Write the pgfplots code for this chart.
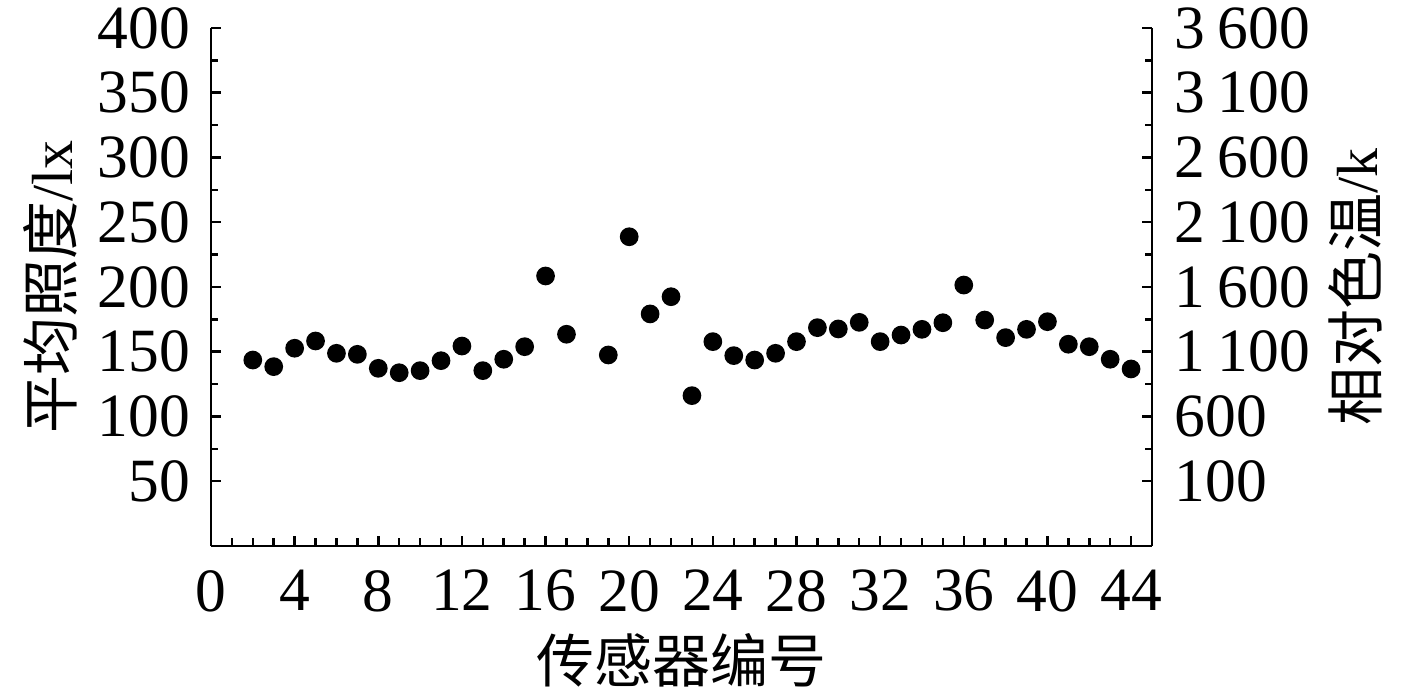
\documentclass[border=0pt]{standalone}
\usepackage{pgfplots}
\pgfplotsset{compat=1.18}
\usepackage{fontspec}
\setmainfont{Liberation Serif}
\newfontfamily\cjk{Noto Sans CJK SC}

\pgfplotsset{
  twin/.style={
    scale only axis,
    width=188.2pt, height=103.6pt,
    xmin=0, xmax=45,
    font=\fontsize{12.3}{14}\selectfont,
    label style={font=\fontsize{11.6}{14}\selectfont},
    tick align=inside,
    major tick length=2pt, minor tick length=1.5pt,
    axis line style={line width=0.5pt},
    tick style={line width=0.5pt, black},
    /pgf/number format/assume math mode=true,
  }
}

\begin{document}
\begin{tikzpicture}
\begin{axis}[
    twin,
    axis x line*=bottom, axis y line*=left,
    xtick pos=bottom, ytick pos=left,
    ymin=0, ymax=400,
    ytick={50,100,...,400},
    minor y tick num=1,
    xtick={0,4,...,44},
    minor xtick={1,...,44},
    xticklabel style={yshift=-1.3pt},
    yticklabel style={xshift=-0.7pt},
    xlabel={\cjk 传感器编号},
    xlabel style={at={(axis description cs:0.5,0)}, anchor=center, yshift=-22.8pt},
    ylabel={{\cjk 平均照度}/lx},
    ylabel style={at={(axis description cs:0,0.5)}, anchor=center, yshift=32.2pt},
]
\addplot[only marks, mark=*, mark size=1.67pt, black] coordinates {
    (2,143.6) (3,138.5) (4,152.7) (5,158.3) (6,148.8) (7,148.0)
    (8,137.2) (9,133.8) (10,135.4) (11,143.1) (12,154.4) (13,135.4)
    (14,144.2) (15,153.9) (16,208.5) (17,163.5) (19,147.5) (20,238.8)
    (21,179.2) (22,192.5) (23,116.1) (24,157.8) (25,147.0) (26,143.6)
    (27,148.8) (28,157.8) (29,168.6) (30,167.6) (31,172.7) (32,157.8)
    (33,162.9) (34,167.3) (35,172.4) (36,201.5) (37,174.5) (38,160.9)
    (39,167.3) (40,173.2) (41,155.8) (42,153.9) (43,144.2) (44,136.7)
};
\end{axis}
\begin{axis}[
    twin,
    axis x line=none, axis y line*=right,
    ytick pos=right, yticklabel pos=right,
    ymin=-400, ymax=3600,
    ytick={100,600,...,3600},
    minor y tick num=1,
    yticklabel style={xshift=1pt},
    /pgf/number format/1000 sep={\hspace{0.2em}},
    ylabel={{\cjk 相对色温}/k},
    ylabel style={at={(axis description cs:1,0.5)}, anchor=center, yshift=-40.6pt},
]
\end{axis}
\pgfresetboundingbox
\path ([xshift=-42.2pt,yshift=-29pt]current axis.south west)
      rectangle ([xshift=53pt,yshift=5.6pt]current axis.north east);
\end{tikzpicture}
\end{document}
